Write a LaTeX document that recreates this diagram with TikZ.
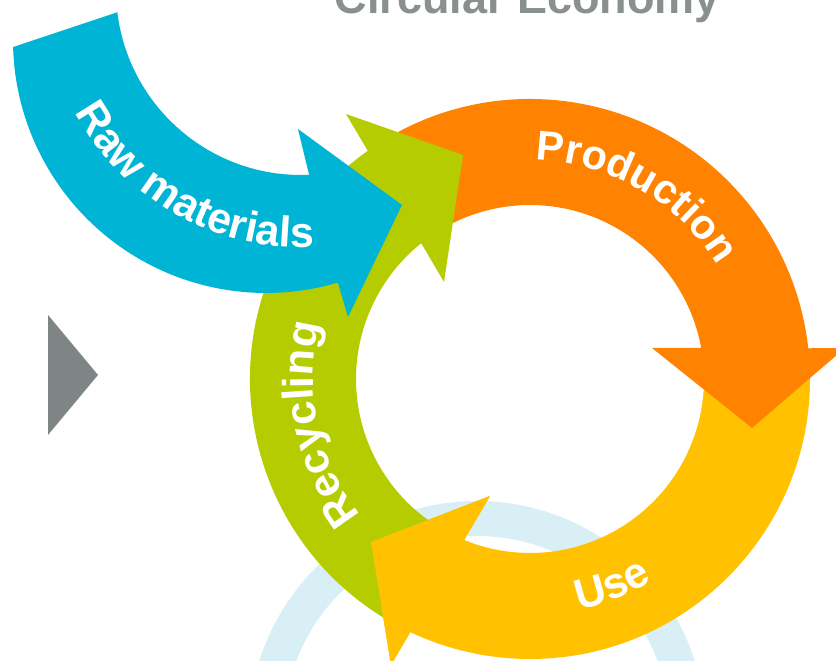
\documentclass[tikz,border=0pt]{standalone}
\usepackage{fontspec}
\setmainfont{Liberation Sans}
\usetikzlibrary{calc,decorations.text}
\definecolor{cblue}{RGB}{0,180,214}
\definecolor{corange}{RGB}{255,131,0}
\definecolor{cyellow}{RGB}{255,193,0}
\definecolor{cgreen}{RGB}{181,204,0}
\definecolor{cgrey}{RGB}{127,133,133}
\definecolor{ctitle}{RGB}{138,143,143}
\definecolor{clight}{RGB}{217,239,246}
\newcommand\arlbl{\bfseries\fontsize{43}{43}\selectfont}
\newcommand\arlblsm{\bfseries\fontsize{41.5}{41.5}\selectfont}
\tikzset{
  lbltext/.style={decorate, decoration={text along path, text color=white, text={|\arlbl|#1}}},
  lbltextsm/.style={decorate, decoration={text along path, text color=white, text={|\arlblsm|#1}}},
  titletext/.style={text=ctitle, font=\bfseries\fontsize{45}{45}\selectfont, inner sep=0pt, anchor=base}
}
\begin{document}
\begin{tikzpicture}[x=1pt,y=1pt]
\useasboundingbox (0,0) rectangle (836,661);
\coordinate (C) at (530,282);
\coordinate (Bi) at (301,671);
\coordinate (Bo) at (266,621);
\coordinate (L) at (477,-68);
% faint background ring
\draw[clight, line width=35pt] (L) circle[radius=210.5];
% title
\node[titletext] (title) at (527.5,647) {Circular Economy};
% grey triangle
\fill[cgrey] (48,346) -- (48,226) -- (98,286) -- cycle;
% Use (yellow)
\fill[cyellow] ($(C)+(2:280)$) arc[start angle=2, end angle=-115.3, radius=280]
  -- (391,-4) -- (371,119) -- (490,165)
  -- ($(C)+(-112.3:174)$) arc[start angle=-112.3, end angle=2, radius=174] -- cycle;
% Production (orange)
\fill[corange] ($(C)+(125:280)$) arc[start angle=125, end angle=6.3, radius=280]
  -- (845,313) -- (752,233) -- (652,313)
  -- ($(C)+(10.3:174)$) arc[start angle=10.3, end angle=125, radius=174] -- cycle;
% Recycling (green)
\fill[cgreen] ($(C)+(-118:280)$) arc[start angle=-118, end angle=-234.6, radius=280]
  -- (346,547) -- (463,506) -- (444,379)
  -- ($(C)+(-231.3:174)$) arc[start angle=-231.3, end angle=-118, radius=174] -- cycle;
% yellow head again, over the green tail
\fill[cyellow] (391,-4) -- (371,119) -- (490,165) -- cycle;
% Raw materials (blue)
\fill[cblue] ($(Bo)+(-178.4:253)$) arc[start angle=-178.4, end angle=-73.5, radius=253]
  -- (348,344) -- (402,456) -- (298,532)
  -- ($(Bi)+(-87.5:185)$) arc[start angle=-87.5, end angle=-173.1, radius=185] -- cycle;
% labels
\path[lbltext={Raw materials}] ($(Bi)+(-151.5:257)$) arc[start angle=-151.5, end angle=-60, radius=257];
\path[lbltextsm={Production}] ($(C)+(88.5:219)$) arc[start angle=88.5, end angle=10, radius=219];
\path[lbltext={Recycling}] ($(C)+(-141:217)$) arc[start angle=-141, end angle=-215, radius=217];
\path[lbltext={Use}] ($(C)+(-78:236)$) arc[start angle=-78, end angle=-30, radius=236];
\end{tikzpicture}
\end{document}
